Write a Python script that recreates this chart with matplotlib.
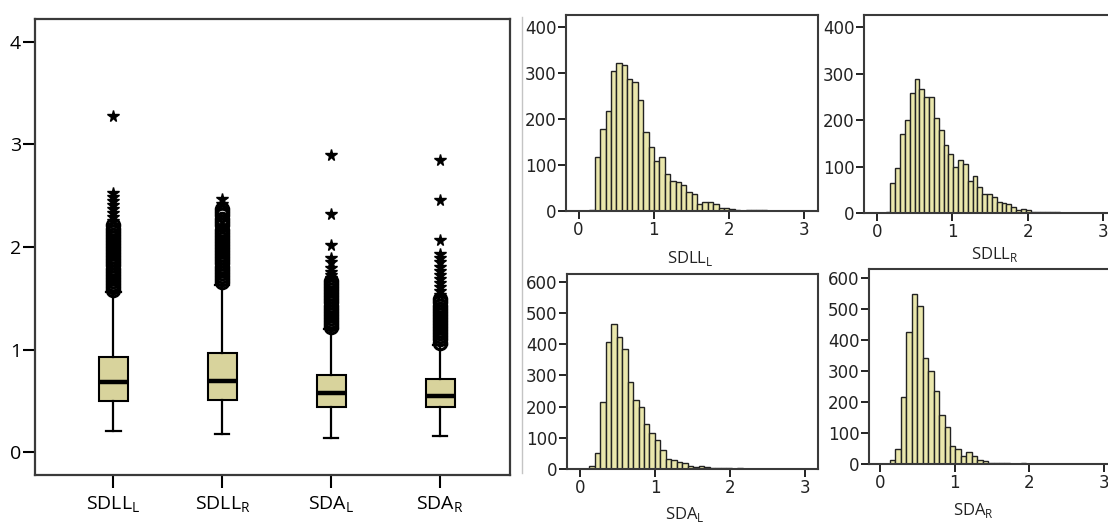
import numpy as np
import matplotlib.pyplot as plt
from matplotlib.lines import Line2D

# ---- box plot values ----
labels = ['SDLL$_\\mathregular{L}$', 'SDLL$_\\mathregular{R}$',
          'SDA$_\\mathregular{L}$', 'SDA$_\\mathregular{R}$']
whis_lo = [0.21, 0.18, 0.14, 0.16]
q1 = [0.50, 0.51, 0.44, 0.44]
medians = [0.69, 0.70, 0.58, 0.55]
q3 = [0.93, 0.97, 0.75, 0.71]
whis_hi = [1.56, 1.63, 1.20, 1.05]

# outliers (circles) and extreme outliers (stars)
circles_sdll_l = [1.58, 1.61, 1.64, 1.67, 1.70, 1.73, 1.76, 1.79, 1.82, 1.85, 1.88,
                  1.91, 1.94, 1.97, 2.00, 2.03, 2.06, 2.09, 2.12, 2.15, 2.18, 2.21]
stars_sdll_l = [2.25, 2.29, 2.33, 2.37, 2.41, 2.45, 2.49, 2.53, 3.28]
circles_sdll_r = [1.66, 1.69, 1.72, 1.75, 1.78, 1.81, 1.84, 1.87, 1.90, 1.93, 1.96,
                  1.99, 2.02, 2.05, 2.08, 2.11, 2.14, 2.17, 2.21, 2.24, 2.27, 2.31,
                  2.34, 2.37]
stars_sdll_r = [2.42, 2.47]
circles_sda_l = [1.22, 1.25, 1.28, 1.31, 1.34, 1.37, 1.40, 1.43, 1.46, 1.49, 1.52,
                 1.55, 1.58, 1.61, 1.64, 1.67]
stars_sda_l = [1.70, 1.73, 1.76, 1.80, 1.85, 1.89, 2.02, 2.32, 2.90]
circles_sda_r = [1.07, 1.10, 1.13, 1.16, 1.19, 1.22, 1.25, 1.28, 1.31, 1.34, 1.37,
                 1.40, 1.43, 1.46, 1.49]
stars_sda_r = [1.53, 1.57, 1.61, 1.65, 1.69, 1.73, 1.77, 1.81, 1.85, 1.89, 1.93,
               2.07, 2.46, 2.85]
circles = [circles_sdll_l, circles_sdll_r, circles_sda_l, circles_sda_r]
stars = [stars_sdll_l, stars_sdll_r, stars_sda_l, stars_sda_r]

# ---- histogram counts (bin start, bin width, counts) ----
hist_sdll_l_start, hist_sdll_l_width = 0.144, 0.0715
hist_sdll_l = [2, 118, 178, 217, 304, 323, 319, 287, 281, 241, 172, 139, 109, 118,
               80, 65, 64, 57, 42, 36, 15, 20, 20, 15, 7, 6, 4, 3, 1, 2, 3, 2, 2, 1, 1]
hist_sdll_r_start, hist_sdll_r_width = 0.118, 0.064
hist_sdll_r = [2, 65, 96, 171, 200, 258, 288, 267, 249, 249, 205, 178, 146, 128,
               99, 115, 105, 68, 79, 56, 40, 40, 35, 24, 22, 19, 13, 6, 9, 6, 3, 2,
               3, 3, 3, 2, 1]
hist_sda_l_start, hist_sda_l_width = 0.12, 0.073
hist_sda_l = [11, 51, 216, 406, 464, 424, 384, 280, 222, 200, 145, 115, 92, 60, 32,
              28, 21, 19, 11, 6, 11, 6, 4, 4, 3, 2, 1, 2, 1, 1, 1, 0, 0, 0, 0, 0,
              0, 0, 1]
hist_sda_r_start, hist_sda_r_width = 0.135, 0.073
hist_sda_r = [14, 49, 215, 425, 548, 512, 344, 301, 237, 157, 118, 57, 49, 25, 39,
              25, 13, 11, 4, 3, 2, 2, 1, 1, 2, 1, 0, 0, 0, 0, 0, 1, 0, 0, 0, 0, 0, 1]

box_color = '#d8d39c'
bar_color = '#eae7ac'
frame_color = '#3a3a3a'

W, H = 1108, 523
fig = plt.figure(figsize=(W / 100, H / 100), dpi=100)


def px_axes(left, top, right, bottom):
    return fig.add_axes([left / W, 1 - bottom / H, (right - left) / W, (bottom - top) / H])


# ---- box plot panel ----
ax = px_axes(35, 19, 510, 475)
positions = [1, 2, 3, 4]
stats = []
for i in range(4):
    stats.append(dict(med=medians[i], q1=q1[i], q3=q3[i],
                      whislo=whis_lo[i], whishi=whis_hi[i], fliers=[]))
ax.bxp(stats, positions=positions, widths=0.27, capwidths=0.13, patch_artist=True,
       boxprops=dict(facecolor=box_color, edgecolor='black', linewidth=1.5),
       medianprops=dict(color='black', linewidth=3.2),
       whiskerprops=dict(color='black', linewidth=1.6),
       capprops=dict(color='black', linewidth=1.6))
for p, c, s in zip(positions, circles, stars):
    ax.plot([p] * len(c), c, 'o', ms=9, mfc='none', mec='black', mew=2.2)
    ax.plot([p] * len(s), s, '*', ms=8.5, color='black')

ax.set_xlim(0.28, 4.64)
ax.set_ylim(-0.22, 4.22)
ax.set_yticks([0, 1, 2, 3, 4])
ax.set_xticks(positions)
ax.set_xticklabels(labels, family='Open Sans', fontsize=14)
ax.tick_params(axis='y', direction='out', length=9, width=1.5, pad=1, labelsize=14)
ax.tick_params(axis='x', direction='out', length=9, width=1.5, pad=5)
for lab in ax.get_yticklabels():
    lab.set_family('Open Sans')
for sp in ax.spines.values():
    sp.set_color(frame_color)
    sp.set_linewidth(1.6)

# separator line between panels
fig.add_artist(Line2D([522 / W, 522 / W], [1 - 17 / H, 1 - 473 / H],
                      color='#c4c4c4', lw=1))


# ---- histogram panels ----
def hist_panel(box, xlim, ylim, yticks, start, width, counts, name, label_xy):
    hax = px_axes(*box)
    edges = start + width * np.arange(len(counts))
    hax.bar(edges, counts, width=width, align='edge', color=bar_color,
            edgecolor='#222222', linewidth=1.0)
    hax.set_xlim(*xlim)
    hax.set_ylim(*ylim)
    hax.set_xticks([0, 1, 2, 3])
    hax.set_yticks(yticks)
    hax.tick_params(direction='out', length=6, width=1.4, pad=1, labelsize=12,
                    colors='#222222')
    for lab in hax.get_xticklabels() + hax.get_yticklabels():
        lab.set_family('DejaVu Sans')
    for sp in hax.spines.values():
        sp.set_color(frame_color)
        sp.set_linewidth(1.5)
    fig.text(label_xy[0] / W, 1 - label_xy[1] / H, name, ha='center', va='center',
             family='Open Sans', fontsize=12, color='#222222')
    return hax


hist_panel((566, 15, 818, 211), (-0.167, 3.18), (0, 427), [0, 100, 200, 300, 400],
           hist_sdll_l_start, hist_sdll_l_width, hist_sdll_l, labels[0], (690, 259))
hist_panel((864, 15, 1116, 213), (-0.168, 3.17), (0, 426), [0, 100, 200, 300, 400],
           hist_sdll_r_start, hist_sdll_r_width, hist_sdll_r, labels[1], (995, 255))
hist_panel((567, 274, 818, 469), (-0.177, 3.17), (0, 625), [0, 100, 200, 300, 400, 500, 600],
           hist_sda_l_start, hist_sda_l_width, hist_sda_l, labels[2], (685, 514))
hist_panel((869, 269, 1121, 464), (-0.147, 3.23), (0, 630), [0, 100, 200, 300, 400, 500, 600],
           hist_sda_r_start, hist_sda_r_width, hist_sda_r, labels[3], (973, 511))

fig.savefig('out.png', dpi=100)
